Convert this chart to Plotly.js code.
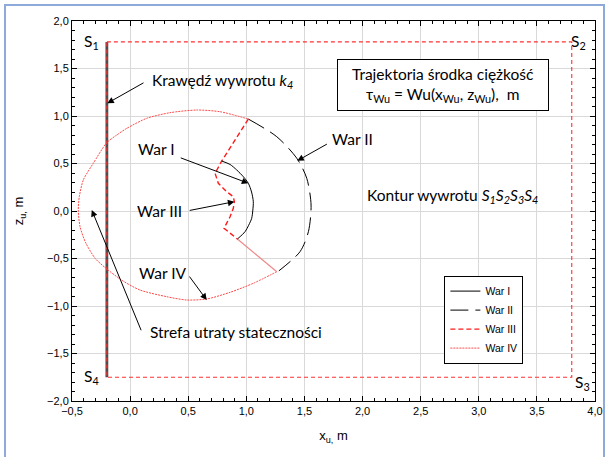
<!DOCTYPE html>
<html>
<head>
<meta charset="utf-8">
<script src="https://cdn.plot.ly/plotly-3.0.1.min.js"></script>
<style>
  html, body { margin: 0; padding: 0; background: #fff; overflow: hidden; }
  #wrap { position: relative; width: 605px; height: 457px; }
  #chart { position: absolute; left: 0; top: 0; width: 605px; height: 457px; }
  #frame { position: absolute; left: 4px; top: 4px; width: 597px; height: 470px;
           border: 2px solid #8eaadb; pointer-events: none; }
</style>
</head>
<body>
<div id="wrap">
  <div id="chart"></div>
  <div id="frame"></div>
</div>
<script>
// Overturn contour S1-S2-S3-S4
const konturX = [-0.2, 3.8, 3.8, -0.2, -0.2];
const konturZ = [1.78, 1.78, -1.75, -1.75, 1.78];

// Overturn edge k4
const krawedzX = [-0.2, -0.2];
const krawedzZ = [1.78, -1.75];

// War I – inner arc
const war1X = [0.788, 0.86, 0.917, 0.975, 1.017, 1.045, 1.06, 1.056, 1.046, 1.02, 0.989, 0.923];
const war1Z = [0.526, 0.49, 0.432, 0.36, 0.292, 0.2, 0.098, 0.01, -0.077, -0.15, -0.218, -0.295];

// War II – outer arc
const war2X = [1.017, 1.262, 1.434, 1.52, 1.557, 1.534, 1.462, 1.28];
const war2Z = [0.968, 0.782, 0.555, 0.344, 0.063, -0.218, -0.428, -0.63];

// War III – broken line
const war3X = [1.017, 0.788, 0.731, 0.759, 0.831, 0.888, 0.897, 0.888, 0.86, 0.808, 0.923];
const war3Z = [0.968, 0.526, 0.397, 0.292, 0.203, 0.151, 0.098, 0.028, -0.06, -0.182, -0.295];

// War IV – large loop and closing segment
const war4X = [1.017, 0.774, 0.573, 0.343, 0.143, -0.029, -0.115, -0.201, -0.317, -0.403, -0.437,
               -0.446, -0.431, -0.38, -0.3, -0.201, -0.07, 0.085, 0.315, 0.487, 0.659, 0.86, 1.06, 1.262];
const war4Z = [0.968, 1.045, 1.063, 1.035, 0.976, 0.87, 0.8, 0.719, 0.502, 0.326, 0.151,
               0.011, -0.165, -0.34, -0.5, -0.61, -0.73, -0.832, -0.902, -0.937, -0.926, -0.856, -0.761, -0.639];
const war4SegX = [1.262, 0.923];
const war4SegZ = [-0.639, -0.295];

const xTicks = [-0.5, 0, 0.5, 1, 1.5, 2, 2.5, 3, 3.5, 4];
const zTicks = [-2, -1.5, -1, -0.5, 0, 0.5, 1, 1.5, 2];

const RED = '#ff1a1a';
const PINK = '#ff4a4a';

const traces = [
  { x: krawedzX, y: krawedzZ, mode: 'lines', showlegend: false, hoverinfo: 'skip',
    line: { color: '#4d4d4d', width: 2.8 } },
  { x: konturX, y: konturZ, mode: 'lines', showlegend: false, hoverinfo: 'skip',
    line: { color: '#ff3030', width: 1.1, dash: '4px,3px' } },
  { x: war4X, y: war4Z, mode: 'lines', name: 'War IV', legendrank: 4,
    line: { color: PINK, width: 1, dash: '2px,1px', shape: 'spline', smoothing: 0.7 } },
  { x: war4SegX, y: war4SegZ, mode: 'lines', name: 'War IV', showlegend: false,
    line: { color: '#ee8888', width: 1.2 } },
  { x: war2X, y: war2Z, mode: 'lines', name: 'War II', legendrank: 2,
    line: { color: '#000000', width: 1, dash: '18px,7px', shape: 'spline', smoothing: 0.8 } },
  { x: war3X, y: war3Z, mode: 'lines', name: 'War III', legendrank: 3,
    line: { color: RED, width: 1.4, dash: '5px,3px' } },
  { x: war1X, y: war1Z, mode: 'lines', name: 'War I', legendrank: 1,
    line: { color: '#000000', width: 1, shape: 'spline', smoothing: 0.8 } }
];

const lbl = { family: 'Lato, "Open Sans", sans-serif', size: 15.5, color: '#000' };
const arrowStyle = { showarrow: true, arrowhead: 2, arrowsize: 1.3, arrowwidth: 1,
                     arrowcolor: '#000', axref: 'x', ayref: 'y', text: '' };

function txt(x, y, text, anchor, extra) {
  return Object.assign({ x: x, y: y, xref: 'x', yref: 'y', text: text, showarrow: false,
                         xanchor: anchor || 'center', yanchor: 'middle', font: lbl }, extra || {});
}
function arrow(tx, tz, fx, fz) {
  return Object.assign({ x: tx, y: tz, ax: fx, ay: fz, xref: 'x', yref: 'y' }, arrowStyle);
}

const annotations = [
  txt(0.171, 1.368, 'Krawędź wywrotu <i>k<sub>4</sub></i>', 'left'),
  arrow(-0.196, 1.134, 0.128, 1.358),
  txt(0.229, 0.653, 'War I'),
  arrow(1.017, 0.292, 0.423, 0.565),
  txt(0.249, 0.0, 'War III'),
  arrow(0.897, 0.098, 0.5, 0.003),
  txt(1.914, 0.758, 'War II'),
  arrow(1.439, 0.529, 1.706, 0.713),
  txt(0.283, -0.653, 'War IV'),
  arrow(0.659, -0.937, 0.501, -0.674),
  txt(0.157, -1.274, 'Strefa utraty stateczności', 'left'),
  arrow(-0.33, 0.011, 0.1, -1.271),
  txt(2.022, 0.158, 'Kontur wywrotu <i>S<sub>1</sub>S<sub>2</sub>S<sub>3</sub>S<sub>4</sub></i>', 'left'),
  txt(2.688, 1.326, 'Trajektoria środka ciężkość<br>τ<sub>Wu</sub> = Wu(x<sub>Wu</sub>, z<sub>Wu</sub>),  m', 'center',
      { bordercolor: '#000', borderwidth: 1, borderpad: 3, bgcolor: '#fff', width: 204, height: 44 }),
  txt(-0.328, 1.779, 'S<sub>1</sub>'),
  txt(3.855, 1.779, 'S<sub>2</sub>'),
  txt(3.889, -1.81, 'S<sub>3</sub>'),
  txt(-0.328, -1.747, 'S<sub>4</sub>')
];

const axisBase = {
  showline: true, linecolor: '#000', linewidth: 1, mirror: 'ticks',
  ticks: 'inside', ticklen: 5, tickcolor: '#000', tickwidth: 1,
  showgrid: true, gridcolor: '#d9d9d9', gridwidth: 1, zeroline: false,
  tickformat: '.1f', tickfont: { family: '"Liberation Sans", Arial, sans-serif', size: 11, color: '#000' },
  minor: { dtick: 0.1, ticks: 'inside', ticklen: 3, tickcolor: '#000', showgrid: false }
};

const layout = {
  width: 605, height: 457,
  margin: { l: 72, r: 10, t: 21, b: 56 },
  paper_bgcolor: '#fff', plot_bgcolor: '#fff',
  separators: ', ',
  xaxis: Object.assign({}, axisBase, {
    range: [-0.5, 4], tickvals: xTicks,
    title: { text: 'x<sub>u,</sub> m', standoff: 14,
             font: { family: '"Liberation Sans", Arial, sans-serif', size: 13, color: '#000' } }
  }),
  yaxis: Object.assign({}, axisBase, {
    range: [-2, 2], tickvals: zTicks,
    title: { text: 'z<sub>u,</sub> m', standoff: 20,
             font: { family: '"Liberation Sans", Arial, sans-serif', size: 13, color: '#000' } }
  }),
  legend: {
    x: 0.712, y: 0.33, xanchor: 'left', yanchor: 'top',
    bgcolor: '#fff', bordercolor: '#000', borderwidth: 1,
    font: { family: '"Liberation Sans", Arial, sans-serif', size: 10.5, color: '#000' },
    tracegroupgap: 0, itemwidth: 30
  },
  annotations: annotations
};

Plotly.newPlot('chart', traces, layout, { staticPlot: true, displayModeBar: false });
</script>
</body>
</html>
